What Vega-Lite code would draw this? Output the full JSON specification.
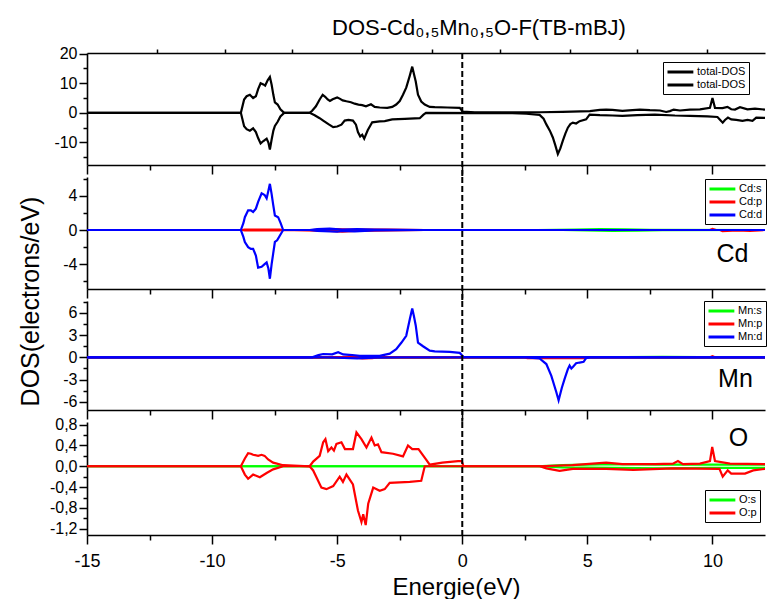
{
"$schema": "https://vega.github.io/schema/vega-lite/v6.json",
"padding": {"left": 17, "top": 16, "right": 0, "bottom": 0},
"title": {"text": "DOS-Cd₀,₅Mn₀,₅O-F(TB-mBJ)", "anchor": "middle", "frame": "group", "dx": 53, "fontSize": 22, "fontWeight": "normal", "color": "black", "font": "Liberation Sans", "offset": 6},
"config": {
 "font": "Liberation Sans",
 "view": {"stroke": null},
 "axis": {"grid": false, "domainColor": "#000", "domainWidth": 1.6, "tickColor": "#000", "tickWidth": 1.5, "labelColor": "#000", "labelFontSize": 16, "labelFont": "Liberation Sans", "labelPadding": 2, "labelFlush": false, "titleColor": "#000", "titleFont": "Liberation Sans", "titleFontWeight": "normal"},
 "legend": {"strokeColor": "#000", "fillColor": "#fff", "padding": 3, "labelFontSize": 11, "labelColor": "#000", "labelFont": "Liberation Sans", "rowPadding": 0, "symbolStrokeWidth": 3, "symbolType": "M-1,0L3.7,0", "symbolSize": 121, "labelOffset": 17}
},
"datasets": {
 "one": [{"k": 1}],
 "T": [
  {"sp":"up","e":-15,"v":0},{"sp":"up","e":-8.85,"v":0},{"sp":"up","e":-8.72,"v":4.5},{"sp":"up","e":-8.62,"v":5.6},{"sp":"up","e":-8.49,"v":6.1},{"sp":"up","e":-8.36,"v":5.0},{"sp":"up","e":-8.25,"v":5.6},{"sp":"up","e":-8.16,"v":8.0},{"sp":"up","e":-8.06,"v":10.0},{"sp":"up","e":-7.95,"v":9.6},{"sp":"up","e":-7.88,"v":9.2},{"sp":"up","e":-7.78,"v":11.0},{"sp":"up","e":-7.69,"v":12.1},{"sp":"up","e":-7.62,"v":9.5},{"sp":"up","e":-7.55,"v":6.0},{"sp":"up","e":-7.49,"v":3.5},{"sp":"up","e":-7.38,"v":2.8},{"sp":"up","e":-7.27,"v":1.2},{"sp":"up","e":-7.12,"v":0},{"sp":"up","e":-6.1,"v":0},{"sp":"up","e":-6.0,"v":0.7},{"sp":"up","e":-5.85,"v":2.2},{"sp":"up","e":-5.7,"v":4.5},{"sp":"up","e":-5.58,"v":6.1},{"sp":"up","e":-5.48,"v":5.4},{"sp":"up","e":-5.38,"v":4.5},{"sp":"up","e":-5.29,"v":4.0},{"sp":"up","e":-5.18,"v":4.6},{"sp":"up","e":-5.0,"v":5.2},{"sp":"up","e":-4.9,"v":4.8},{"sp":"up","e":-4.78,"v":4.2},{"sp":"up","e":-4.63,"v":3.9},{"sp":"up","e":-4.45,"v":3.6},{"sp":"up","e":-4.3,"v":3.1},{"sp":"up","e":-4.15,"v":2.8},{"sp":"up","e":-4.0,"v":2.6},{"sp":"up","e":-3.85,"v":2.2},{"sp":"up","e":-3.65,"v":2.9},{"sp":"up","e":-3.5,"v":2.0},{"sp":"up","e":-3.3,"v":1.8},{"sp":"up","e":-3.0,"v":1.7},{"sp":"up","e":-2.8,"v":2.0},{"sp":"up","e":-2.64,"v":2.8},{"sp":"up","e":-2.5,"v":4.0},{"sp":"up","e":-2.37,"v":6.1},{"sp":"up","e":-2.24,"v":8.5},{"sp":"up","e":-2.1,"v":12.5},{"sp":"up","e":-2.0,"v":15.6},{"sp":"up","e":-1.93,"v":13.0},{"sp":"up","e":-1.86,"v":10.6},{"sp":"up","e":-1.77,"v":6.1},{"sp":"up","e":-1.64,"v":3.8},{"sp":"up","e":-1.5,"v":2.8},{"sp":"up","e":-1.3,"v":2.0},{"sp":"up","e":-1.1,"v":1.9},{"sp":"up","e":-0.6,"v":1.8},{"sp":"up","e":-0.1,"v":1.7},{"sp":"up","e":0.02,"v":0.4},{"sp":"up","e":0.5,"v":0.2},{"sp":"up","e":2.0,"v":0.2},{"sp":"up","e":3.1,"v":0.2},{"sp":"up","e":4.0,"v":0.3},{"sp":"up","e":5.1,"v":0.6},{"sp":"up","e":5.5,"v":1.0},{"sp":"up","e":5.75,"v":1.1},{"sp":"up","e":6.0,"v":1.0},{"sp":"up","e":6.4,"v":0.7},{"sp":"up","e":6.8,"v":0.9},{"sp":"up","e":7.1,"v":1.1},{"sp":"up","e":7.5,"v":0.9},{"sp":"up","e":7.9,"v":0.8},{"sp":"up","e":8.15,"v":0.3},{"sp":"up","e":8.3,"v":0.6},{"sp":"up","e":8.45,"v":1.1},{"sp":"up","e":8.7,"v":0.8},{"sp":"up","e":9.1,"v":1.1},{"sp":"up","e":9.5,"v":1.2},{"sp":"up","e":9.9,"v":1.7},{"sp":"up","e":10.0,"v":5.0},{"sp":"up","e":10.1,"v":1.7},{"sp":"up","e":10.4,"v":1.6},{"sp":"up","e":10.6,"v":2.0},{"sp":"up","e":10.75,"v":1.2},{"sp":"up","e":10.9,"v":1.1},{"sp":"up","e":11.1,"v":1.9},{"sp":"up","e":11.4,"v":1.2},{"sp":"up","e":11.7,"v":1.4},{"sp":"up","e":12.1,"v":1.1},
  {"sp":"dn","e":-15,"v":0},{"sp":"dn","e":-8.85,"v":0},{"sp":"dn","e":-8.72,"v":-4.5},{"sp":"dn","e":-8.62,"v":-5.5},{"sp":"dn","e":-8.49,"v":-6.0},{"sp":"dn","e":-8.36,"v":-5.2},{"sp":"dn","e":-8.25,"v":-6.5},{"sp":"dn","e":-8.16,"v":-8.5},{"sp":"dn","e":-8.06,"v":-10.3},{"sp":"dn","e":-7.95,"v":-9.5},{"sp":"dn","e":-7.82,"v":-8.7},{"sp":"dn","e":-7.75,"v":-10.0},{"sp":"dn","e":-7.69,"v":-12.4},{"sp":"dn","e":-7.62,"v":-9.0},{"sp":"dn","e":-7.55,"v":-6.0},{"sp":"dn","e":-7.49,"v":-4.4},{"sp":"dn","e":-7.38,"v":-3.0},{"sp":"dn","e":-7.27,"v":-1.2},{"sp":"dn","e":-7.12,"v":0},{"sp":"dn","e":-6.1,"v":0},{"sp":"dn","e":-5.9,"v":-0.8},{"sp":"dn","e":-5.7,"v":-1.8},{"sp":"dn","e":-5.56,"v":-2.6},{"sp":"dn","e":-5.35,"v":-3.8},{"sp":"dn","e":-5.16,"v":-4.8},{"sp":"dn","e":-5.0,"v":-4.6},{"sp":"dn","e":-4.83,"v":-4.0},{"sp":"dn","e":-4.7,"v":-2.6},{"sp":"dn","e":-4.55,"v":-2.4},{"sp":"dn","e":-4.37,"v":-2.6},{"sp":"dn","e":-4.25,"v":-4.0},{"sp":"dn","e":-4.17,"v":-6.5},{"sp":"dn","e":-4.08,"v":-8.0},{"sp":"dn","e":-4.0,"v":-7.4},{"sp":"dn","e":-3.92,"v":-8.7},{"sp":"dn","e":-3.78,"v":-5.9},{"sp":"dn","e":-3.6,"v":-3.2},{"sp":"dn","e":-3.3,"v":-2.9},{"sp":"dn","e":-3.1,"v":-2.8},{"sp":"dn","e":-2.8,"v":-2.2},{"sp":"dn","e":-2.3,"v":-2.0},{"sp":"dn","e":-1.7,"v":-1.8},{"sp":"dn","e":-1.55,"v":-0.6},{"sp":"dn","e":-1.45,"v":0},{"sp":"dn","e":2.0,"v":-0.1},{"sp":"dn","e":2.56,"v":-0.3},{"sp":"dn","e":3.09,"v":-0.7},{"sp":"dn","e":3.25,"v":-2.0},{"sp":"dn","e":3.36,"v":-3.9},{"sp":"dn","e":3.5,"v":-6.0},{"sp":"dn","e":3.62,"v":-8.3},{"sp":"dn","e":3.72,"v":-11.0},{"sp":"dn","e":3.82,"v":-13.9},{"sp":"dn","e":3.92,"v":-12.0},{"sp":"dn","e":4.02,"v":-9.4},{"sp":"dn","e":4.12,"v":-7.0},{"sp":"dn","e":4.22,"v":-5.0},{"sp":"dn","e":4.32,"v":-3.8},{"sp":"dn","e":4.42,"v":-3.3},{"sp":"dn","e":4.55,"v":-3.6},{"sp":"dn","e":4.69,"v":-2.8},{"sp":"dn","e":4.95,"v":-2.2},{"sp":"dn","e":5.09,"v":-0.6},{"sp":"dn","e":5.5,"v":-0.8},{"sp":"dn","e":6.0,"v":-0.9},{"sp":"dn","e":6.4,"v":-1.0},{"sp":"dn","e":7.0,"v":-0.8},{"sp":"dn","e":7.7,"v":-0.6},{"sp":"dn","e":8.5,"v":-0.9},{"sp":"dn","e":9.1,"v":-1.0},{"sp":"dn","e":9.8,"v":-1.2},{"sp":"dn","e":10.2,"v":-1.4},{"sp":"dn","e":10.3,"v":-2.3},{"sp":"dn","e":10.41,"v":-3.3},{"sp":"dn","e":10.5,"v":-2.4},{"sp":"dn","e":10.62,"v":-1.6},{"sp":"dn","e":10.75,"v":-2.2},{"sp":"dn","e":10.95,"v":-2.4},{"sp":"dn","e":11.2,"v":-2.7},{"sp":"dn","e":11.4,"v":-2.4},{"sp":"dn","e":11.6,"v":-2.7},{"sp":"dn","e":11.75,"v":-1.6},{"sp":"dn","e":12.1,"v":-1.7}
 ],
 "Cd": [
  {"s":"Cd:s","sp":"up","e":-15,"v":0},{"s":"Cd:s","sp":"up","e":3,"v":0},{"s":"Cd:s","sp":"up","e":4.5,"v":0.05},{"s":"Cd:s","sp":"up","e":5.5,"v":0.1},{"s":"Cd:s","sp":"up","e":6.5,"v":0.08},{"s":"Cd:s","sp":"up","e":7.5,"v":0.03},{"s":"Cd:s","sp":"up","e":12.1,"v":0},
  {"s":"Cd:s","sp":"dn","e":-15,"v":0},{"s":"Cd:s","sp":"dn","e":4,"v":0},{"s":"Cd:s","sp":"dn","e":5,"v":-0.05},{"s":"Cd:s","sp":"dn","e":6,"v":-0.1},{"s":"Cd:s","sp":"dn","e":7,"v":-0.08},{"s":"Cd:s","sp":"dn","e":8,"v":-0.02},{"s":"Cd:s","sp":"dn","e":12.1,"v":0},
  {"s":"Cd:p","sp":"up","e":-15,"v":0},{"s":"Cd:p","sp":"up","e":-8.8,"v":0},{"s":"Cd:p","sp":"up","e":-8.7,"v":0.05},{"s":"Cd:p","sp":"up","e":-7.3,"v":0.05},{"s":"Cd:p","sp":"up","e":-7.2,"v":0},{"s":"Cd:p","sp":"up","e":-6.0,"v":0},{"s":"Cd:p","sp":"up","e":-5.2,"v":0.1},{"s":"Cd:p","sp":"up","e":-4.5,"v":0.05},{"s":"Cd:p","sp":"up","e":-3.0,"v":0.05},{"s":"Cd:p","sp":"up","e":-1.5,"v":0},{"s":"Cd:p","sp":"up","e":9.9,"v":0},{"s":"Cd:p","sp":"up","e":10.0,"v":0.12},{"s":"Cd:p","sp":"up","e":10.15,"v":0},{"s":"Cd:p","sp":"up","e":12.1,"v":0},
  {"s":"Cd:p","sp":"dn","e":-15,"v":0},{"s":"Cd:p","sp":"dn","e":-8.8,"v":0},{"s":"Cd:p","sp":"dn","e":-8.7,"v":-0.05},{"s":"Cd:p","sp":"dn","e":-7.3,"v":-0.05},{"s":"Cd:p","sp":"dn","e":-7.2,"v":0},{"s":"Cd:p","sp":"dn","e":-5.3,"v":-0.1},{"s":"Cd:p","sp":"dn","e":-4.8,"v":-0.2},{"s":"Cd:p","sp":"dn","e":-4.3,"v":-0.1},{"s":"Cd:p","sp":"dn","e":-1.5,"v":0},{"s":"Cd:p","sp":"dn","e":10.3,"v":0},{"s":"Cd:p","sp":"dn","e":10.4,"v":-0.12},{"s":"Cd:p","sp":"dn","e":11,"v":-0.05},{"s":"Cd:p","sp":"dn","e":11.5,"v":-0.1},{"s":"Cd:p","sp":"dn","e":12.1,"v":0},
  {"s":"Cd:d","sp":"up","e":-15,"v":0},{"s":"Cd:d","sp":"up","e":-8.85,"v":0},{"s":"Cd:d","sp":"up","e":-8.75,"v":0.8},{"s":"Cd:d","sp":"up","e":-8.69,"v":1.5},{"s":"Cd:d","sp":"up","e":-8.56,"v":2.3},{"s":"Cd:d","sp":"up","e":-8.45,"v":2.3},{"s":"Cd:d","sp":"up","e":-8.36,"v":2.1},{"s":"Cd:d","sp":"up","e":-8.25,"v":2.5},{"s":"Cd:d","sp":"up","e":-8.16,"v":3.3},{"s":"Cd:d","sp":"up","e":-8.02,"v":4.3},{"s":"Cd:d","sp":"up","e":-7.9,"v":4.1},{"s":"Cd:d","sp":"up","e":-7.82,"v":3.7},{"s":"Cd:d","sp":"up","e":-7.75,"v":4.6},{"s":"Cd:d","sp":"up","e":-7.69,"v":5.4},{"s":"Cd:d","sp":"up","e":-7.62,"v":4.2},{"s":"Cd:d","sp":"up","e":-7.56,"v":3.0},{"s":"Cd:d","sp":"up","e":-7.49,"v":1.7},{"s":"Cd:d","sp":"up","e":-7.36,"v":1.5},{"s":"Cd:d","sp":"up","e":-7.26,"v":0.8},{"s":"Cd:d","sp":"up","e":-7.16,"v":0},{"s":"Cd:d","sp":"up","e":-6.1,"v":0},{"s":"Cd:d","sp":"up","e":-5.8,"v":0.1},{"s":"Cd:d","sp":"up","e":-5.3,"v":0.15},{"s":"Cd:d","sp":"up","e":-4.8,"v":0.05},{"s":"Cd:d","sp":"up","e":-4.2,"v":0.1},{"s":"Cd:d","sp":"up","e":-3.5,"v":0.05},{"s":"Cd:d","sp":"up","e":-1.5,"v":0},{"s":"Cd:d","sp":"up","e":12.1,"v":0},
  {"s":"Cd:d","sp":"dn","e":-15,"v":0},{"s":"Cd:d","sp":"dn","e":-8.85,"v":0},{"s":"Cd:d","sp":"dn","e":-8.75,"v":-0.8},{"s":"Cd:d","sp":"dn","e":-8.69,"v":-1.4},{"s":"Cd:d","sp":"dn","e":-8.56,"v":-2.0},{"s":"Cd:d","sp":"dn","e":-8.45,"v":-2.2},{"s":"Cd:d","sp":"dn","e":-8.36,"v":-2.2},{"s":"Cd:d","sp":"dn","e":-8.25,"v":-3.0},{"s":"Cd:d","sp":"dn","e":-8.16,"v":-4.4},{"s":"Cd:d","sp":"dn","e":-8.02,"v":-4.3},{"s":"Cd:d","sp":"dn","e":-7.9,"v":-4.0},{"s":"Cd:d","sp":"dn","e":-7.82,"v":-3.8},{"s":"Cd:d","sp":"dn","e":-7.75,"v":-4.5},{"s":"Cd:d","sp":"dn","e":-7.69,"v":-5.7},{"s":"Cd:d","sp":"dn","e":-7.62,"v":-4.0},{"s":"Cd:d","sp":"dn","e":-7.56,"v":-2.8},{"s":"Cd:d","sp":"dn","e":-7.49,"v":-1.4},{"s":"Cd:d","sp":"dn","e":-7.4,"v":-1.2},{"s":"Cd:d","sp":"dn","e":-7.3,"v":-0.7},{"s":"Cd:d","sp":"dn","e":-7.16,"v":0},{"s":"Cd:d","sp":"dn","e":-6.1,"v":0},{"s":"Cd:d","sp":"dn","e":-5.8,"v":-0.1},{"s":"Cd:d","sp":"dn","e":-5.0,"v":-0.2},{"s":"Cd:d","sp":"dn","e":-4.8,"v":-0.1},{"s":"Cd:d","sp":"dn","e":-4.3,"v":-0.15},{"s":"Cd:d","sp":"dn","e":-3.5,"v":-0.05},{"s":"Cd:d","sp":"dn","e":-1.5,"v":0},{"s":"Cd:d","sp":"dn","e":12.1,"v":0}
 ],
 "Mn": [
  {"s":"Mn:s","sp":"up","e":-15,"v":0},{"s":"Mn:s","sp":"up","e":5,"v":0},{"s":"Mn:s","sp":"up","e":6.5,"v":0.05},{"s":"Mn:s","sp":"up","e":8,"v":0.08},{"s":"Mn:s","sp":"up","e":9.5,"v":0.04},{"s":"Mn:s","sp":"up","e":12.1,"v":0},
  {"s":"Mn:s","sp":"dn","e":-15,"v":0},{"s":"Mn:s","sp":"dn","e":6,"v":0},{"s":"Mn:s","sp":"dn","e":7,"v":-0.05},{"s":"Mn:s","sp":"dn","e":9,"v":-0.06},{"s":"Mn:s","sp":"dn","e":11,"v":-0.04},{"s":"Mn:s","sp":"dn","e":12.1,"v":0},
  {"s":"Mn:p","sp":"up","e":-15,"v":0},{"s":"Mn:p","sp":"up","e":-5.8,"v":0},{"s":"Mn:p","sp":"up","e":-5,"v":0.05},{"s":"Mn:p","sp":"up","e":-4,"v":0.03},{"s":"Mn:p","sp":"up","e":-2,"v":0},{"s":"Mn:p","sp":"up","e":9.9,"v":0},{"s":"Mn:p","sp":"up","e":10,"v":0.15},{"s":"Mn:p","sp":"up","e":10.1,"v":0},{"s":"Mn:p","sp":"up","e":12.1,"v":0},
  {"s":"Mn:p","sp":"dn","e":-15,"v":0},{"s":"Mn:p","sp":"dn","e":-4.3,"v":0},{"s":"Mn:p","sp":"dn","e":-4.0,"v":-0.15},{"s":"Mn:p","sp":"dn","e":-3.6,"v":-0.1},{"s":"Mn:p","sp":"dn","e":-3.4,"v":0},{"s":"Mn:p","sp":"dn","e":2.5,"v":0},{"s":"Mn:p","sp":"dn","e":2.6,"v":-0.12},{"s":"Mn:p","sp":"dn","e":4.9,"v":-0.12},{"s":"Mn:p","sp":"dn","e":5.0,"v":0},{"s":"Mn:p","sp":"dn","e":12.1,"v":0},
  {"s":"Mn:d","sp":"up","e":-15,"v":0},{"s":"Mn:d","sp":"up","e":-6.0,"v":0},{"s":"Mn:d","sp":"up","e":-5.75,"v":0.3},{"s":"Mn:d","sp":"up","e":-5.56,"v":0.45},{"s":"Mn:d","sp":"up","e":-5.2,"v":0.4},{"s":"Mn:d","sp":"up","e":-4.96,"v":0.7},{"s":"Mn:d","sp":"up","e":-4.76,"v":0.4},{"s":"Mn:d","sp":"up","e":-4.4,"v":0.3},{"s":"Mn:d","sp":"up","e":-4.1,"v":0.2},{"s":"Mn:d","sp":"up","e":-3.3,"v":0.2},{"s":"Mn:d","sp":"up","e":-2.9,"v":0.5},{"s":"Mn:d","sp":"up","e":-2.64,"v":1.1},{"s":"Mn:d","sp":"up","e":-2.43,"v":2.0},{"s":"Mn:d","sp":"up","e":-2.24,"v":2.9},{"s":"Mn:d","sp":"up","e":-2.1,"v":5.1},{"s":"Mn:d","sp":"up","e":-2.0,"v":6.6},{"s":"Mn:d","sp":"up","e":-1.93,"v":5.5},{"s":"Mn:d","sp":"up","e":-1.86,"v":4.3},{"s":"Mn:d","sp":"up","e":-1.77,"v":2.0},{"s":"Mn:d","sp":"up","e":-1.57,"v":1.5},{"s":"Mn:d","sp":"up","e":-1.3,"v":0.9},{"s":"Mn:d","sp":"up","e":-1.1,"v":0.8},{"s":"Mn:d","sp":"up","e":-0.5,"v":0.75},{"s":"Mn:d","sp":"up","e":-0.1,"v":0.6},{"s":"Mn:d","sp":"up","e":0.05,"v":0.05},{"s":"Mn:d","sp":"up","e":12.1,"v":0},
  {"s":"Mn:d","sp":"dn","e":-15,"v":0},{"s":"Mn:d","sp":"dn","e":-5.5,"v":0},{"s":"Mn:d","sp":"dn","e":-5.0,"v":-0.05},{"s":"Mn:d","sp":"dn","e":-4.2,"v":-0.15},{"s":"Mn:d","sp":"dn","e":-3.5,"v":-0.05},{"s":"Mn:d","sp":"dn","e":-2.5,"v":0},{"s":"Mn:d","sp":"dn","e":2.56,"v":0},{"s":"Mn:d","sp":"dn","e":3.09,"v":-0.15},{"s":"Mn:d","sp":"dn","e":3.36,"v":-0.9},{"s":"Mn:d","sp":"dn","e":3.56,"v":-2.5},{"s":"Mn:d","sp":"dn","e":3.76,"v":-4.7},{"s":"Mn:d","sp":"dn","e":3.85,"v":-5.8},{"s":"Mn:d","sp":"dn","e":3.98,"v":-4.1},{"s":"Mn:d","sp":"dn","e":4.09,"v":-2.9},{"s":"Mn:d","sp":"dn","e":4.22,"v":-1.6},{"s":"Mn:d","sp":"dn","e":4.29,"v":-1.1},{"s":"Mn:d","sp":"dn","e":4.36,"v":-1.5},{"s":"Mn:d","sp":"dn","e":4.42,"v":-1.3},{"s":"Mn:d","sp":"dn","e":4.55,"v":-0.8},{"s":"Mn:d","sp":"dn","e":4.69,"v":-0.7},{"s":"Mn:d","sp":"dn","e":4.85,"v":-0.6},{"s":"Mn:d","sp":"dn","e":4.95,"v":-0.1},{"s":"Mn:d","sp":"dn","e":5.1,"v":0},{"s":"Mn:d","sp":"dn","e":12.1,"v":0}
 ],
 "O": [
  {"s":"O:s","sp":"up","e":-15,"v":0},{"s":"O:s","sp":"up","e":3,"v":0},{"s":"O:s","sp":"up","e":4,"v":0.02},{"s":"O:s","sp":"up","e":6,"v":0.04},{"s":"O:s","sp":"up","e":8,"v":0.03},{"s":"O:s","sp":"up","e":10,"v":0.03},{"s":"O:s","sp":"up","e":12.1,"v":0.03},
  {"s":"O:s","sp":"dn","e":-15,"v":0},{"s":"O:s","sp":"dn","e":3,"v":0},{"s":"O:s","sp":"dn","e":4,"v":-0.02},{"s":"O:s","sp":"dn","e":6,"v":-0.03},{"s":"O:s","sp":"dn","e":8,"v":-0.04},{"s":"O:s","sp":"dn","e":10,"v":-0.03},{"s":"O:s","sp":"dn","e":12.1,"v":-0.03},
  {"s":"O:p","sp":"up","e":-15,"v":0},{"s":"O:p","sp":"up","e":-8.85,"v":0},{"s":"O:p","sp":"up","e":-8.69,"v":0.15},{"s":"O:p","sp":"up","e":-8.56,"v":0.25},{"s":"O:p","sp":"up","e":-8.45,"v":0.24},{"s":"O:p","sp":"up","e":-8.36,"v":0.22},{"s":"O:p","sp":"up","e":-8.16,"v":0.2},{"s":"O:p","sp":"up","e":-8.02,"v":0.22},{"s":"O:p","sp":"up","e":-7.9,"v":0.2},{"s":"O:p","sp":"up","e":-7.76,"v":0.13},{"s":"O:p","sp":"up","e":-7.56,"v":0.07},{"s":"O:p","sp":"up","e":-7.16,"v":0.02},{"s":"O:p","sp":"up","e":-6.1,"v":0},{"s":"O:p","sp":"up","e":-5.96,"v":0.09},{"s":"O:p","sp":"up","e":-5.7,"v":0.2},{"s":"O:p","sp":"up","e":-5.56,"v":0.46},{"s":"O:p","sp":"up","e":-5.47,"v":0.52},{"s":"O:p","sp":"up","e":-5.36,"v":0.29},{"s":"O:p","sp":"up","e":-5.23,"v":0.36},{"s":"O:p","sp":"up","e":-5.13,"v":0.3},{"s":"O:p","sp":"up","e":-5.03,"v":0.43},{"s":"O:p","sp":"up","e":-4.83,"v":0.46},{"s":"O:p","sp":"up","e":-4.69,"v":0.33},{"s":"O:p","sp":"up","e":-4.37,"v":0.33},{"s":"O:p","sp":"up","e":-4.23,"v":0.65},{"s":"O:p","sp":"up","e":-4.03,"v":0.52},{"s":"O:p","sp":"up","e":-3.83,"v":0.36},{"s":"O:p","sp":"up","e":-3.63,"v":0.55},{"s":"O:p","sp":"up","e":-3.5,"v":0.4},{"s":"O:p","sp":"up","e":-3.37,"v":0.42},{"s":"O:p","sp":"up","e":-3.23,"v":0.27},{"s":"O:p","sp":"up","e":-2.77,"v":0.24},{"s":"O:p","sp":"up","e":-2.37,"v":0.19},{"s":"O:p","sp":"up","e":-2.17,"v":0.4},{"s":"O:p","sp":"up","e":-2.0,"v":0.33},{"s":"O:p","sp":"up","e":-1.75,"v":0.33},{"s":"O:p","sp":"up","e":-1.43,"v":0.12},{"s":"O:p","sp":"up","e":-1.3,"v":0.03},{"s":"O:p","sp":"up","e":-0.8,"v":0.07},{"s":"O:p","sp":"up","e":-0.17,"v":0.1},{"s":"O:p","sp":"up","e":-0.02,"v":0.1},{"s":"O:p","sp":"up","e":0.05,"v":0},{"s":"O:p","sp":"up","e":3.1,"v":0},{"s":"O:p","sp":"up","e":4.4,"v":0.02},{"s":"O:p","sp":"up","e":5.75,"v":0.07},{"s":"O:p","sp":"up","e":6.4,"v":0.04},{"s":"O:p","sp":"up","e":7.7,"v":0.04},{"s":"O:p","sp":"up","e":8.42,"v":0.05},{"s":"O:p","sp":"up","e":8.62,"v":0.1},{"s":"O:p","sp":"up","e":8.82,"v":0.04},{"s":"O:p","sp":"up","e":9.5,"v":0.05},{"s":"O:p","sp":"up","e":9.9,"v":0.1},{"s":"O:p","sp":"up","e":9.99,"v":0.37},{"s":"O:p","sp":"up","e":10.1,"v":0.1},{"s":"O:p","sp":"up","e":10.7,"v":0.05},{"s":"O:p","sp":"up","e":12.1,"v":0.04},
  {"s":"O:p","sp":"dn","e":-15,"v":0},{"s":"O:p","sp":"dn","e":-8.85,"v":0},{"s":"O:p","sp":"dn","e":-8.69,"v":-0.16},{"s":"O:p","sp":"dn","e":-8.56,"v":-0.24},{"s":"O:p","sp":"dn","e":-8.36,"v":-0.16},{"s":"O:p","sp":"dn","e":-8.09,"v":-0.21},{"s":"O:p","sp":"dn","e":-7.82,"v":-0.13},{"s":"O:p","sp":"dn","e":-7.56,"v":-0.06},{"s":"O:p","sp":"dn","e":-7.16,"v":0},{"s":"O:p","sp":"dn","e":-6.1,"v":0},{"s":"O:p","sp":"dn","e":-5.96,"v":-0.08},{"s":"O:p","sp":"dn","e":-5.63,"v":-0.41},{"s":"O:p","sp":"dn","e":-5.43,"v":-0.44},{"s":"O:p","sp":"dn","e":-5.16,"v":-0.38},{"s":"O:p","sp":"dn","e":-4.9,"v":-0.2},{"s":"O:p","sp":"dn","e":-4.77,"v":-0.3},{"s":"O:p","sp":"dn","e":-4.63,"v":-0.16},{"s":"O:p","sp":"dn","e":-4.37,"v":-0.35},{"s":"O:p","sp":"dn","e":-4.17,"v":-0.85},{"s":"O:p","sp":"dn","e":-4.03,"v":-1.07},{"s":"O:p","sp":"dn","e":-3.96,"v":-0.92},{"s":"O:p","sp":"dn","e":-3.86,"v":-1.13},{"s":"O:p","sp":"dn","e":-3.76,"v":-0.72},{"s":"O:p","sp":"dn","e":-3.56,"v":-0.41},{"s":"O:p","sp":"dn","e":-3.3,"v":-0.47},{"s":"O:p","sp":"dn","e":-3.1,"v":-0.44},{"s":"O:p","sp":"dn","e":-2.9,"v":-0.32},{"s":"O:p","sp":"dn","e":-2.1,"v":-0.3},{"s":"O:p","sp":"dn","e":-1.64,"v":-0.28},{"s":"O:p","sp":"dn","e":-1.5,"v":0},{"s":"O:p","sp":"dn","e":3.1,"v":0},{"s":"O:p","sp":"dn","e":3.36,"v":-0.04},{"s":"O:p","sp":"dn","e":3.89,"v":-0.09},{"s":"O:p","sp":"dn","e":4.42,"v":-0.05},{"s":"O:p","sp":"dn","e":5.75,"v":-0.05},{"s":"O:p","sp":"dn","e":6.84,"v":-0.07},{"s":"O:p","sp":"dn","e":8.4,"v":-0.04},{"s":"O:p","sp":"dn","e":10.28,"v":-0.05},{"s":"O:p","sp":"dn","e":10.41,"v":-0.2},{"s":"O:p","sp":"dn","e":10.61,"v":-0.08},{"s":"O:p","sp":"dn","e":10.75,"v":-0.14},{"s":"O:p","sp":"dn","e":11.0,"v":-0.14},{"s":"O:p","sp":"dn","e":11.3,"v":-0.14},{"s":"O:p","sp":"dn","e":11.63,"v":-0.08},{"s":"O:p","sp":"dn","e":12.1,"v":-0.05}
 ]
},
"spacing": 12,
"bounds": "flush",
"resolve": {"scale": {"x": "independent", "y": "independent", "color": "independent"}, "legend": {"color": "independent"}},
"vconcat": [
 {
  "width": 678, "height": 112,
  "resolve": {"axis": {"x": "independent", "y": "independent"}},
  "layer": [
   {"data": {"name": "T"},
    "mark": {"type": "line", "strokeWidth": 2.2, "clip": true},
    "encoding": {
     "x": {"field": "e", "type": "quantitative", "scale": {"domain": [-15, 12.1], "nice": false, "zero": false}, "axis": {"orient": "bottom", "values": [-15, -10, -5, 0, 5, 10], "labels": false, "tickSize": 9, "title": null}},
     "y": {"field": "v", "type": "quantitative", "scale": {"domain": [-17.6, 20.2], "nice": false, "zero": false}, "axis": {"orient": "left", "values": [-10, 0, 10, 20], "tickSize": 8, "labelExpr": "datum.value + ''", "title": null}},
     "color": {"field": "sp", "type": "nominal", "scale": {"domain": ["up", "dn"], "range": ["#000000", "#000000"]}, "legend": {"orient": "none", "legendX": 576, "legendY": 9, "title": null, "labelExpr": "'total-DOS'"}}
    }},
   {"data": {"name": "one"},
    "mark": {"type": "rule", "strokeDash": [6, 3], "strokeWidth": 2, "color": "black"},
    "encoding": {
     "x": {"datum": 0, "type": "quantitative", "scale": {"domain": [-15, 12.1], "nice": false, "zero": false}, "axis": {"orient": "bottom", "values": [-12.5, -7.5, -2.5, 2.5, 7.5], "labels": false, "tickSize": 5, "domain": false, "title": null}},
     "y": {"datum": 20.2, "type": "quantitative", "scale": {"domain": [-17.6, 20.2], "nice": false, "zero": false}, "axis": {"orient": "left", "values": [-15, -5, 5, 15], "labels": false, "tickSize": 4, "domain": false, "title": null}},
     "y2": {"datum": -21.65}
    }},
   {"data": {"name": "one"},
    "mark": {"type": "rule", "strokeOpacity": 0},
    "encoding": {
     "x": {"datum": 0, "type": "quantitative", "scale": {"domain": [-15, 12.1], "nice": false, "zero": false}, "axis": {"orient": "top", "values": [-12.2, -9.5, -6.8, -4.0, -1.2, 1.5, 4.3, 7.0, 9.8], "labels": false, "tickSize": 4, "title": null}}
    }}
  ]
 },
 {
  "width": 678, "height": 112,
  "resolve": {"axis": {"x": "independent", "y": "independent"}},
  "layer": [
   {"data": {"name": "Cd"},
    "mark": {"type": "line", "strokeWidth": 2.2, "clip": true},
    "encoding": {
     "x": {"field": "e", "type": "quantitative", "scale": {"domain": [-15, 12.1], "nice": false, "zero": false}, "axis": {"orient": "bottom", "values": [-15, -10, -5, 0, 5, 10], "labels": false, "tickSize": 9, "title": null}},
     "y": {"field": "v", "type": "quantitative", "scale": {"domain": [-6.9, 6.2], "nice": false, "zero": false}, "axis": {"orient": "left", "values": [-4, 0, 4], "tickSize": 8, "labelExpr": "datum.value + ''", "title": "DOS(electrons/eV)", "titleFontSize": 25, "titleX": -57, "titleY": 124, "titleAngle": 270, "titleAlign": "center", "titleBaseline": "middle"}},
     "color": {"field": "s", "type": "nominal", "scale": {"domain": ["Cd:s", "Cd:p", "Cd:d"], "range": ["#00ff00", "#ff0000", "#0000ff"]}, "legend": {"orient": "none", "legendX": 618, "legendY": 2, "title": null}},
     "detail": {"field": "sp"}
    }},
   {"data": {"name": "one"},
    "mark": {"type": "rule", "strokeDash": [6, 3], "strokeWidth": 2, "color": "black"},
    "encoding": {
     "x": {"datum": 0, "type": "quantitative", "scale": {"domain": [-15, 12.1], "nice": false, "zero": false}, "axis": {"orient": "bottom", "values": [-12.5, -7.5, -2.5, 2.5, 7.5], "labels": false, "tickSize": 5, "domain": false, "title": null}},
     "y": {"datum": 6.2, "type": "quantitative", "scale": {"domain": [-6.9, 6.2], "nice": false, "zero": false}, "axis": {"orient": "left", "values": [-6, -2, 2, 6], "labels": false, "tickSize": 4, "domain": false, "title": null}},
     "y2": {"datum": -8.3}
    }},
   {"data": {"name": "one"},
    "mark": {"type": "text", "fontSize": 25, "fontWeight": "normal", "font": "Liberation Sans", "fill": "#000000"},
    "encoding": {
     "x": {"datum": 10.8, "type": "quantitative", "scale": {"domain": [-15, 12.1], "nice": false, "zero": false}, "axis": null},
     "y": {"datum": -2.85, "type": "quantitative", "scale": {"domain": [-6.9, 6.2], "nice": false, "zero": false}, "axis": null},
     "text": {"value": "Cd"}
    }}
  ]
 },
 {
  "width": 678, "height": 109,
  "resolve": {"axis": {"x": "independent", "y": "independent"}},
  "layer": [
   {"data": {"name": "Mn"},
    "mark": {"type": "line", "strokeWidth": 2.2, "clip": true},
    "encoding": {
     "x": {"field": "e", "type": "quantitative", "scale": {"domain": [-15, 12.1], "nice": false, "zero": false}, "axis": {"orient": "bottom", "values": [-15, -10, -5, 0, 5, 10], "labels": false, "tickSize": 9, "title": null}},
     "y": {"field": "v", "type": "quantitative", "scale": {"domain": [-7.1, 7.6], "nice": false, "zero": false}, "axis": {"orient": "left", "values": [-6, -3, 0, 3, 6], "tickSize": 8, "labelExpr": "datum.value + ''", "title": null}},
     "color": {"field": "s", "type": "nominal", "scale": {"domain": ["Mn:s", "Mn:p", "Mn:d"], "range": ["#00ff00", "#ff0000", "#0000ff"]}, "legend": {"orient": "none", "legendX": 617, "legendY": 0, "title": null}},
     "detail": {"field": "sp"}
    }},
   {"data": {"name": "one"},
    "mark": {"type": "rule", "strokeDash": [6, 3], "strokeWidth": 2, "color": "black"},
    "encoding": {
     "x": {"datum": 0, "type": "quantitative", "scale": {"domain": [-15, 12.1], "nice": false, "zero": false}, "axis": {"orient": "bottom", "values": [-12.5, -7.5, -2.5, 2.5, 7.5], "labels": false, "tickSize": 5, "domain": false, "title": null}},
     "y": {"datum": 7.6, "type": "quantitative", "scale": {"domain": [-7.1, 7.6], "nice": false, "zero": false}, "axis": {"orient": "left", "values": [-7.5, -4.5, -1.5, 1.5, 4.5, 7.5], "labels": false, "tickSize": 4, "domain": false, "title": null}},
     "y2": {"datum": -8.7}
    }},
   {"data": {"name": "one"},
    "mark": {"type": "text", "fontSize": 25, "fontWeight": "normal", "font": "Liberation Sans", "fill": "#000000"},
    "encoding": {
     "x": {"datum": 10.92, "type": "quantitative", "scale": {"domain": [-15, 12.1], "nice": false, "zero": false}, "axis": null},
     "y": {"datum": -2.93, "type": "quantitative", "scale": {"domain": [-7.1, 7.6], "nice": false, "zero": false}, "axis": null},
     "text": {"value": "Mn"}
    }}
  ]
 },
 {
  "width": 678, "height": 113,
  "resolve": {"axis": {"x": "independent", "y": "independent"}},
  "layer": [
   {"data": {"name": "O"},
    "mark": {"type": "line", "strokeWidth": 2.2, "clip": true},
    "encoding": {
     "x": {"field": "e", "type": "quantitative", "scale": {"domain": [-15, 12.1], "nice": false, "zero": false}, "axis": {"orient": "bottom", "values": [-15, -10, -5, 0, 5, 10], "labels": true, "labelExpr": "datum.value + ''", "labelFontSize": 18, "labelPadding": 8, "tickSize": 9, "title": "Energie(eV)", "titleFontSize": 24, "titleX": 369, "titleAlign": "center", "titlePadding": 5}},
     "y": {"field": "v", "type": "quantitative", "scale": {"domain": [-1.32, 0.85], "nice": false, "zero": false}, "axis": {"orient": "left", "values": [-1.2, -0.8, -0.4, 0, 0.4, 0.8], "tickSize": 8, "labelExpr": "replace(replace(format(datum.value, '.1f'), '.', ','), '\u2212', '-')", "title": null}},
     "color": {"field": "s", "type": "nominal", "scale": {"domain": ["O:s", "O:p"], "range": ["#00ff00", "#ff0000"]}, "legend": {"orient": "none", "legendX": 618, "legendY": 68, "title": null}},
     "detail": {"field": "sp"}
    }},
   {"data": {"name": "one"},
    "mark": {"type": "rule", "strokeDash": [6, 3], "strokeWidth": 2, "color": "black"},
    "encoding": {
     "x": {"datum": 0, "type": "quantitative", "scale": {"domain": [-15, 12.1], "nice": false, "zero": false}, "axis": {"orient": "bottom", "values": [-12.5, -7.5, -2.5, 2.5, 7.5], "labels": false, "tickSize": 5, "domain": false, "title": null}},
     "y": {"datum": 0.85, "type": "quantitative", "scale": {"domain": [-1.32, 0.85], "nice": false, "zero": false}, "axis": {"orient": "left", "values": [-1.0, -0.6, -0.2, 0.2, 0.6], "labels": false, "tickSize": 4, "domain": false, "title": null}},
     "y2": {"datum": -1.32}
    }},
   {"data": {"name": "one"},
    "mark": {"type": "text", "fontSize": 25, "fontWeight": "normal", "font": "Liberation Sans", "fill": "#000000"},
    "encoding": {
     "x": {"datum": 11.04, "type": "quantitative", "scale": {"domain": [-15, 12.1], "nice": false, "zero": false}, "axis": null},
     "y": {"datum": 0.55, "type": "quantitative", "scale": {"domain": [-1.32, 0.85], "nice": false, "zero": false}, "axis": null},
     "text": {"value": "O"}
    }}
  ]
 }
]
}
